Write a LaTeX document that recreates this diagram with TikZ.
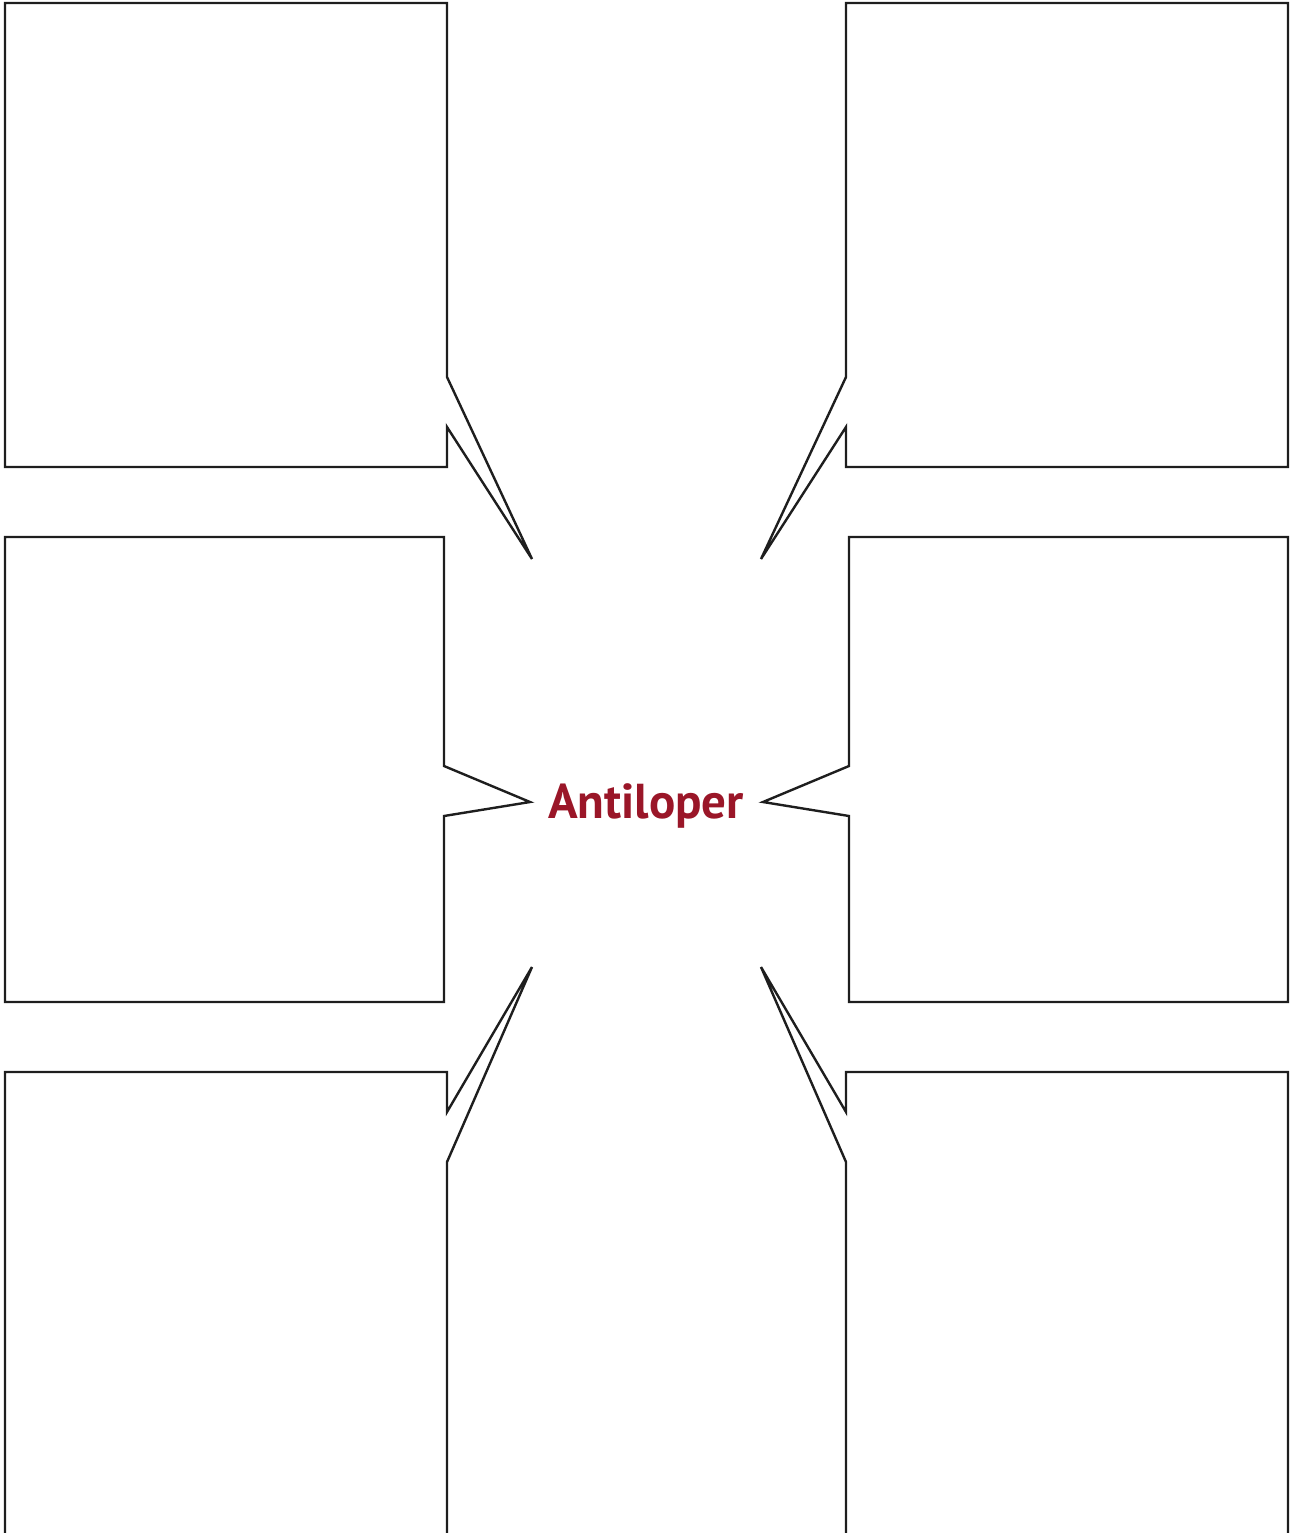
\documentclass[tikz,border=0pt]{standalone}
\usepackage{fontspec}
\newfontfamily\ptsans{PT Sans}
\definecolor{titlered}{HTML}{9A1628}
\definecolor{linegray}{HTML}{1E1E1E}
\begin{document}
\begin{tikzpicture}[x=1pt,y=-1pt,
  callout/.style={draw=linegray,line width=2.4pt,line join=miter},
  title/.style={text=titlered,font=\ptsans\bfseries\fontsize{49}{53}\selectfont}]
\useasboundingbox (0,0) rectangle (1295,1533);
% top-left
\draw[callout] (5,3) -- (447,3) -- (447,377) -- (532,559) -- (447,427) -- (447,467) -- (5,467) -- cycle;
% top-right
\draw[callout] (846,3) -- (1288,3) -- (1288,467) -- (846,467) -- (846,427) -- (761,559) -- (846,377) -- cycle;
% middle-left
\draw[callout] (5,537) -- (444,537) -- (444,766) -- (530,802) -- (444,816) -- (444,1002) -- (5,1002) -- cycle;
% middle-right
\draw[callout] (849,537) -- (1288,537) -- (1288,1002) -- (849,1002) -- (849,816) -- (763,802) -- (849,766) -- cycle;
% bottom-left
\draw[callout] (5,1545) -- (5,1072) -- (447,1072) -- (447,1112) -- (532,967) -- (447,1162) -- (447,1545);
% bottom-right
\draw[callout] (1288,1545) -- (1288,1072) -- (846,1072) -- (846,1112) -- (761,967) -- (846,1162) -- (846,1545);
\node[title] (center) at (646,806) {Antiloper};
\end{tikzpicture}
\end{document}
